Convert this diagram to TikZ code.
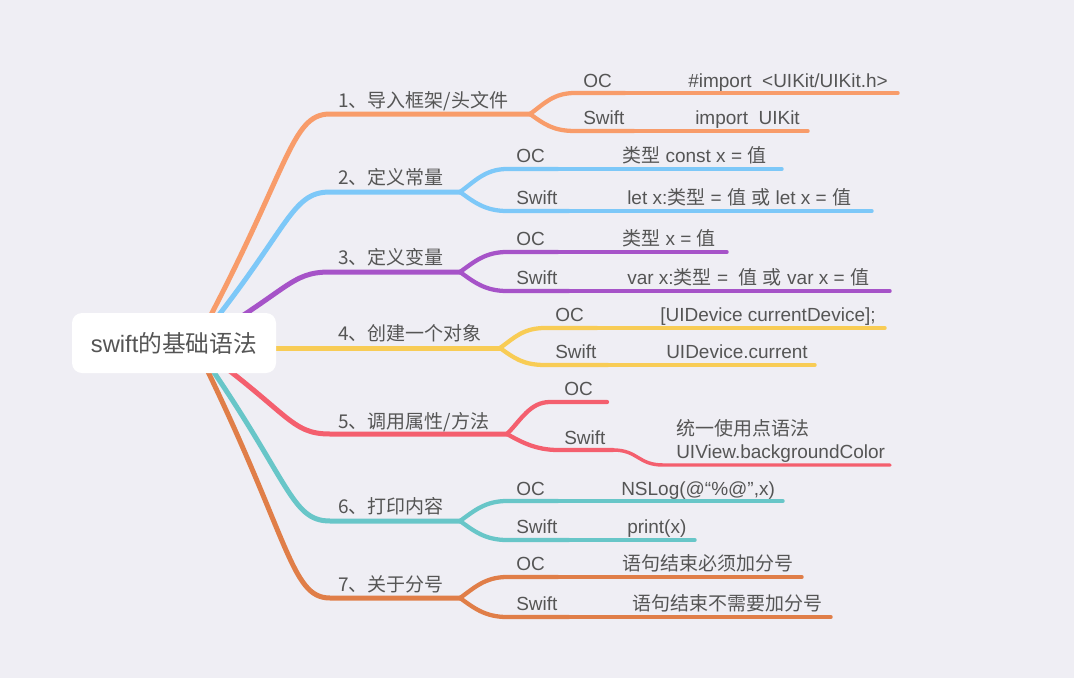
\documentclass[tikz,border=0pt]{standalone}
\usepackage{fontspec}
\setmainfont{Liberation Sans}
\newfontfamily\zh{Noto Sans CJK SC}

\definecolor{paper}{HTML}{EFEEF4}
\definecolor{ink}{HTML}{555555}
\definecolor{br1}{HTML}{F89C6A}
\definecolor{br2}{HTML}{7DC8F8}
\definecolor{br3}{HTML}{A653C8}
\definecolor{br4}{HTML}{F8CC55}
\definecolor{br5}{HTML}{F45F6E}
\definecolor{br6}{HTML}{68C6C8}
\definecolor{br7}{HTML}{E07E48}

\tikzset{
  lvl/.style={line width=3.75pt, line cap=round},
  leaf/.style={line width=3.2pt, line cap=round},
  val/.style={line width=2.6pt, line cap=round},
  txt/.style={anchor=base west, inner sep=0pt, text=ink, font=\fontsize{14.25}{17.25}\selectfont},
}

\begin{document}
\begin{tikzpicture}[x=0.75pt, y=-0.75pt]

\fill [paper] (0,0) rectangle (1074,678);
\useasboundingbox (0,0) rectangle (1074,678);

\coordinate (hub) at (195,345);

% 1
\coordinate (s1) at (330,114);
\coordinate (f1) at (530,114);
\coordinate (o1) at (575,93);
\coordinate (o1m) at (625,93);
\coordinate (o1e) at (898,93);
\coordinate (w1) at (575,131);
\coordinate (w1m) at (634,131);
\coordinate (w1e) at (808,131);
\draw [lvl, br1] (hub) .. controls +(95,-176) and +(-40,0) .. (s1) -- (f1);
\draw [leaf, br1] (f1) .. controls +(14,-10) and +(-22,0) .. (o1) -- (o1m);
\draw [val, br1] (o1m) -- (o1e);
\draw [leaf, br1] (f1) .. controls +(14,10) and +(-22,0) .. (w1) -- (w1m);
\draw [val, br1] (w1m) -- (w1e);
\node [txt] (t1) at (338,107) {\zh 1、导入框架/头文件};
\node [txt] (oc1) at (583,87) {OC};
\node [txt] (v1a) at (688,87) {\#import\ \ <UIKit/UIKit.h>};
\node [txt] (sw1) at (583,124) {Swift};
\node [txt] (v1b) at (695,124) {import\ \ UIKit};

% 2
\coordinate (s2) at (330,192);
\coordinate (f2) at (460,192);
\coordinate (o2) at (507,169);
\coordinate (o2m) at (558,169);
\coordinate (o2e) at (782,169);
\coordinate (w2) at (507,211);
\coordinate (w2m) at (569,211);
\coordinate (w2e) at (872,211);
\draw [lvl, br2] (hub) .. controls +(95,-116) and +(-40,0) .. (s2) -- (f2);
\draw [leaf, br2] (f2) .. controls +(14,-10) and +(-22,0) .. (o2) -- (o2m);
\draw [val, br2] (o2m) -- (o2e);
\draw [leaf, br2] (f2) .. controls +(14,10) and +(-22,0) .. (w2) -- (w2m);
\draw [val, br2] (w2m) -- (w2e);
\node [txt] (t2) at (338,184) {\zh 2、定义常量};
\node [txt] (oc2) at (516,162) {OC};
\node [txt] (v2a) at (622,162) {{\zh 类型} const x = {\zh 值}};
\node [txt] (sw2) at (516,204) {Swift};
\node [txt] (v2b) at (627,204) {let x:{\zh 类型} = {\zh 值} {\zh 或} let x = {\zh 值}};

% 3
\coordinate (s3) at (330,272);
\coordinate (f3) at (460,272);
\coordinate (o3) at (507,252);
\coordinate (o3m) at (558,252);
\coordinate (o3e) at (727,252);
\coordinate (w3) at (507,291);
\coordinate (w3m) at (569,291);
\coordinate (w3e) at (890,291);
\draw [lvl, br3] (hub) .. controls +(95,-55) and +(-40,0) .. (s3) -- (f3);
\draw [leaf, br3] (f3) .. controls +(14,-10) and +(-22,0) .. (o3) -- (o3m);
\draw [val, br3] (o3m) -- (o3e);
\draw [leaf, br3] (f3) .. controls +(14,10) and +(-22,0) .. (w3) -- (w3m);
\draw [val, br3] (w3m) -- (w3e);
\node [txt] (t3) at (338,264) {\zh 3、定义变量};
\node [txt] (oc3) at (516,245) {OC};
\node [txt] (v3a) at (622,245) {{\zh 类型} x = {\zh 值}};
\node [txt] (sw3) at (516,284) {Swift};
\node [txt] (v3b) at (627,284) {var x:{\zh 类型} =\ \ {\zh 值} {\zh 或} var x = {\zh 值}};

% 4
\coordinate (s4) at (260,348);
\coordinate (f4) at (500,348);
\coordinate (o4) at (545,328);
\coordinate (o4m) at (597,328);
\coordinate (o4e) at (885,328);
\coordinate (w4) at (545,365);
\coordinate (w4m) at (608,365);
\coordinate (w4e) at (815,365);
\draw [lvl, br4] (s4) -- (f4);
\draw [leaf, br4] (f4) .. controls +(14,-10) and +(-22,0) .. (o4) -- (o4m);
\draw [val, br4] (o4m) -- (o4e);
\draw [leaf, br4] (f4) .. controls +(14,10) and +(-22,0) .. (w4) -- (w4m);
\draw [val, br4] (w4m) -- (w4e);
\node [txt] (t4) at (338,340) {\zh 4、创建一个对象};
\node [txt] (oc4) at (555,321) {OC};
\node [txt] (v4a) at (660,321) {[UIDevice currentDevice];};
\node [txt] (sw4) at (555,358) {Swift};
\node [txt] (v4b) at (666,358) {UIDevice.current};

% 5
\coordinate (s5) at (330,434);
\coordinate (f5) at (507,434);
\coordinate (o5) at (550,402);
\coordinate (o5e) at (607,402);
\coordinate (w5) at (558,450);
\coordinate (w5m) at (613,450);
\coordinate (w5v) at (663,465);
\coordinate (w5e) at (890,465);
\draw [lvl, br5] (hub) .. controls +(95,68) and +(-40,0) .. (s5) -- (f5);
\draw [leaf, br5] (f5) .. controls +(14,-14) and +(-20,0) .. (o5) -- (o5e);
\draw [leaf, br5] (f5) .. controls +(14,8) and +(-22,0) .. (w5) -- (w5m);
\draw [val, br5] (w5m) .. controls +(25,0) and +(-25,0) .. (w5v) -- (w5e);
\node [txt] (t5) at (338,428) {\zh 5、调用属性/方法};
\node [txt] (oc5) at (564,395) {OC};
\node [txt] (sw5) at (564,444) {Swift};
\node [txt, align=left] (v5b) at (676,458) {{\zh 统一使用点语法}\\UIView.backgroundColor};

% 6
\coordinate (s6) at (330,521);
\coordinate (f6) at (460,521);
\coordinate (o6) at (507,501);
\coordinate (o6m) at (558,501);
\coordinate (o6e) at (783,501);
\coordinate (w6) at (507,540);
\coordinate (w6m) at (569,540);
\coordinate (w6e) at (695,540);
\draw [lvl, br6] (hub) .. controls +(95,134) and +(-40,0) .. (s6) -- (f6);
\draw [leaf, br6] (f6) .. controls +(14,-10) and +(-22,0) .. (o6) -- (o6m);
\draw [val, br6] (o6m) -- (o6e);
\draw [leaf, br6] (f6) .. controls +(14,10) and +(-22,0) .. (w6) -- (w6m);
\draw [val, br6] (w6m) -- (w6e);
\node [txt] (t6) at (338,513) {\zh 6、打印内容};
\node [txt] (oc6) at (516,495) {OC};
\node [txt] (v6a) at (621,495) {NSLog(@“\%@”,x)};
\node [txt] (sw6) at (516,533) {Swift};
\node [txt] (v6b) at (627,533) {print(x)};

% 7
\coordinate (s7) at (330,598);
\coordinate (f7) at (460,598);
\coordinate (o7) at (507,577);
\coordinate (o7m) at (558,577);
\coordinate (o7e) at (802,577);
\coordinate (w7) at (507,617);
\coordinate (w7m) at (569,617);
\coordinate (w7e) at (831,617);
\draw [lvl, br7] (hub) .. controls +(95,192) and +(-40,0) .. (s7) -- (f7);
\draw [leaf, br7] (f7) .. controls +(14,-10) and +(-22,0) .. (o7) -- (o7m);
\draw [val, br7] (o7m) -- (o7e);
\draw [leaf, br7] (f7) .. controls +(14,10) and +(-22,0) .. (w7) -- (w7m);
\draw [val, br7] (w7m) -- (w7e);
\node [txt] (t7) at (338,591) {\zh 7、关于分号};
\node [txt] (oc7) at (516,570) {OC};
\node [txt] (v7a) at (622,570) {\zh 语句结束必须加分号};
\node [txt] (sw7) at (516,610) {Swift};
\node [txt] (v7b) at (632,610) {\zh 语句结束不需要加分号};

% root
\node [fill=white, rounded corners=7.5pt, minimum width=153pt, minimum height=45pt, text=ink, font=\fontsize{17.8}{20}\selectfont] (root) at (174,343) {swift{\zh 的基础语法}};

\end{tikzpicture}
\end{document}
